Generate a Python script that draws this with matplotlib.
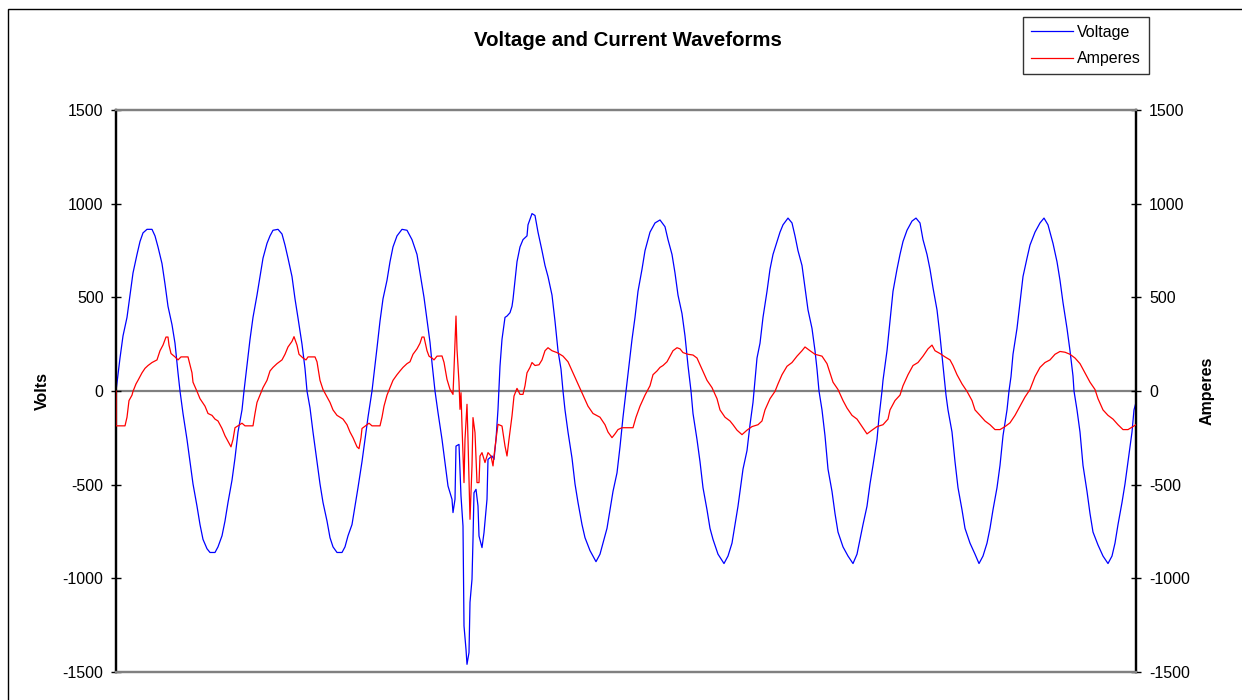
import matplotlib
matplotlib.use("Agg")
import matplotlib.pyplot as plt
from matplotlib.patches import Rectangle

plt.rcParams['font.family'] = ['Liberation Sans', 'DejaVu Sans']
plt.rcParams['axes.unicode_minus'] = False

# sample number (x axis has no labels) and readings taken from the chart
volt_t = [0, 4, 7, 11, 14, 17, 21, 24, 27, 31, 36, 39, 42, 46, 49, 52, 56, 59, 62, 64,
          67, 71, 74, 77, 81, 84, 87, 91, 94, 99, 102, 106, 109, 112, 116, 119, 122, 126, 128,
          131, 134, 137, 141, 144, 147, 151, 154, 157, 162, 166, 169, 172, 176, 179, 182, 186, 189, 191,
          194, 197, 201, 204, 207, 211, 214, 217, 221, 226, 229, 232, 236, 239, 242, 246, 249, 252, 256,
          258, 261, 264, 267, 271, 274, 277, 281, 286, 291, 296, 301, 304, 308, 311, 314, 316, 319,
          322, 326, 329, 332, 336, 337, 339, 340, 343, 345, 347, 348, 350, 351, 353, 354, 356, 357, 358, 360,
          362, 363, 366, 368, 371, 372, 376, 378, 380, 382, 384, 386, 389, 391, 394, 396, 397, 401, 404, 407,
          411, 412, 416, 419, 422, 426, 429, 432, 436, 439, 442, 445, 447,
          449, 452, 456, 459, 462, 466, 469, 474, 480, 484, 487, 491, 494, 497, 501, 504, 507, 510,
          512, 516, 519, 522, 526, 529, 534, 539, 544, 549, 552, 556, 559, 562, 566, 569, 572, 575,
          577, 581, 584, 587, 591, 594, 597, 602, 608, 612, 616, 619, 622, 624, 627, 631, 634, 637, 639,
          641, 644, 647, 651, 654, 657, 661, 664, 667, 672, 676, 679, 682, 686, 689, 692, 696, 699, 701, 703,
          706, 709, 712, 716, 719, 722, 727, 732, 737, 741, 744, 747, 751, 754, 757, 761, 763, 766,
          767, 771, 774, 777, 781, 784, 787, 791, 796, 800, 804, 807, 811, 814, 817, 821, 824, 827, 830,
          832, 836, 839, 842, 846, 849, 854, 859, 863, 867, 871, 874, 877, 881, 884, 887, 891, 893,
          895, 897, 901, 904, 907, 911, 914, 919, 924, 928, 932, 937, 941, 944, 947, 951, 954, 957, 958,
          961, 964, 967, 971, 974, 977, 982, 987, 992, 996, 999, 1002, 1006, 1009, 1012, 1016, 1018, 1020]
volts = [0, 176, 294, 393, 512, 630, 729, 798, 844, 863, 863, 828, 769, 680, 571, 452, 354, 255, 97, 0,
         -120, -259, -377, -496, -615, -713, -792, -842, -862, -862, -832, -773, -694, -595, -476, -358, -219, -101, 0,
         136, 275, 393, 512, 611, 709, 788, 828, 858, 863, 838, 779, 709, 611, 492, 390, 250, 120, 0,
         -90, -219, -377, -496, -595, -694, -783, -832, -862, -862, -832, -773, -713, -615, -516, -377, -259, -140, 0,
         90, 230, 373, 492, 591, 690, 769, 828, 863, 858, 808, 729, 630, 500, 380, 260, 150, 0,
         -115, -258, -382, -507, -578, -649, -578, -294, -285, -561, -721, -1254, -1379, -1459, -1396, -1128, -1005, -792, -543, -525,
         -614, -774, -836, -756, -578, -365, -347, -365, -258, -98, 133, 276, 393, 400, 418, 452, 489, 690, 769, 808,
         828, 887, 947, 937, 848, 749, 670, 611, 512, 373, 215, 117, 0,
         -101, -219, -358, -496, -595, -713, -783, -852, -911, -871, -812, -733, -634, -536, -437, -298, -140, 0,
         90, 275, 393, 532, 650, 749, 848, 897, 913, 877, 808, 729, 630, 512, 413, 294, 136, 0,
         -120, -259, -377, -516, -634, -733, -792, -871, -921, -881, -812, -713, -615, -536, -417, -318, -180, -61, 57,
         176, 255, 393, 532, 650, 729, 798, 848, 887, 923, 897, 828, 749, 670, 551, 433, 334, 215, 117, 0,
         -101, -239, -417, -536, -654, -753, -832, -881, -921, -871, -792, -713, -615, -496, -397, -259, -140, 0,
         57, 215, 373, 532, 650, 729, 798, 858, 907, 923, 897, 808, 729, 650, 551, 433, 294, 136, -22,
         -101, -219, -377, -516, -634, -733, -812, -871, -921, -881, -812, -733, -634, -516, -397, -239, -101, 0,
         77, 196, 334, 472, 611, 709, 779, 848, 897, 923, 887, 788, 690, 591, 472, 334, 215, 80, 0,
         -101, -219, -397, -536, -654, -753, -822, -881, -921, -881, -812, -713, -595, -496, -377, -219, -101, -61]

amp_t = [0, 0, 9, 11, 13, 16, 17, 20, 22, 26, 29, 32, 36, 41, 44, 47, 50, 52, 53, 55,
         59, 62, 65, 72, 76, 77, 81, 84, 89, 92, 96, 99, 102, 106, 109, 112, 115, 117, 119, 122,
         126, 129, 137, 139, 141, 144, 147, 151, 154, 157, 161, 166, 169, 172, 176, 178, 181, 183, 187, 190,
         192, 199, 201, 204, 207, 211, 214, 217, 221, 224, 227, 231, 234, 237, 241, 243, 245, 246, 251, 253,
         256, 264, 266, 268, 271, 274, 277, 281, 284, 287, 291, 294, 297, 301, 304, 306, 308, 311, 313, 316,
         318, 321, 326, 328, 331, 334, 337, 338, 340, 341, 343, 344, 345, 346, 348, 349, 351, 352, 354, 356,
         357, 359, 361, 363, 364, 366, 369, 372, 375, 377, 378, 380, 382, 386, 389, 391, 393, 396, 398, 401,
         404, 407, 409, 411, 414, 416, 419, 423, 426, 429, 432, 436, 441, 444, 447, 452, 457, 462, 467, 472,
         477, 484, 489, 492, 496, 499, 502, 506, 517, 520, 524, 529, 534, 537, 541, 544, 547, 551, 554, 557,
         561, 564, 567, 572, 577, 581, 586, 591, 596, 601, 604, 609, 614, 617, 621, 626, 631, 636, 642, 646,
         649, 654, 659, 662, 666, 671, 676, 681, 686, 689, 694, 699, 706, 711, 714, 717, 722, 727, 731, 736,
         741, 746, 751, 756, 761, 767, 772, 774, 779, 784, 787, 792, 797, 802, 807, 812, 816, 819, 824, 829,
         834, 837, 841, 846, 851, 856, 859, 864, 869, 874, 879, 884, 889, 894, 899, 904, 909, 914, 919, 924,
         929, 934, 939, 944, 949, 954, 959, 964, 969, 974, 979, 982, 987, 992, 997, 1002, 1007, 1012, 1017, 1020]
amps = [0, -186, -186, -140, -51, -22, -2, 38, 57, 97, 121, 136, 152, 166, 215, 245, 288, 288, 245, 200,
        182, 166, 182, 182, 97, 47, -2, -41, -81, -120, -130, -150, -160, -200, -239, -269, -298, -259, -196, -186,
        -172, -186, -186, -120, -61, -22, 18, 57, 107, 126, 146, 166, 196, 235, 265, 290, 245, 196, 176, 166,
        182, 182, 156, 57, 8, -32, -61, -101, -130, -140, -150, -180, -219, -249, -298, -308, -249, -200, -180, -172,
        -186, -186, -140, -81, -22, 18, 57, 87, 107, 126, 146, 156, 196, 225, 255, 288, 288, 215, 186, 176,
        166, 186, 187, 153, 62, 9, -18, 116, 400, 223, 46, -98, -9, -187, -489, -258, -71, -258, -685, -400,
        -142, -222, -489, -489, -347, -329, -382, -329, -347, -400, -347, -258, -178, -187, -294, -347, -258, -133, -27, 14,
        -18, -18, 28, 97, 126, 152, 136, 140, 166, 215, 231, 215, 205, 196, 186, 156, 97, 38, -22, -81,
        -120, -140, -180, -219, -249, -229, -206, -196, -196, -140, -81, -22, 28, 87, 107, 126, 136, 156, 186, 215,
        231, 225, 205, 196, 192, 176, 117, 57, 18, -41, -101, -140, -160, -180, -209, -233, -209, -190, -180, -160,
        -101, -41, -2, 38, 87, 132, 152, 186, 215, 235, 215, 196, 186, 146, 97, 47, 8, -51, -91, -130,
        -150, -190, -229, -209, -190, -180, -150, -101, -51, -22, 28, 87, 136, 152, 186, 225, 245, 215, 200, 182,
        166, 136, 87, 38, -2, -51, -101, -130, -160, -180, -206, -206, -190, -170, -130, -81, -32, 8, 77, 126,
        152, 166, 196, 211, 207, 196, 176, 146, 97, 47, 8, -41, -101, -130, -150, -180, -206, -206, -190, -180]

assert len(volt_t) == len(volts)
assert len(amp_t) == len(amps)

yticks = [-1500, -1000, -500, 0, 500, 1000, 1500]

W, H = 1242, 700
fig = plt.figure(figsize=(W / 100, H / 100), dpi=100)
ax = fig.add_axes([116 / W, 1 - 672 / H, 1020 / W, 562 / H])

ax.axhline(0, color='#808080', lw=1.6, zorder=1)
l1, = ax.plot(volt_t, volts, color='#0000FF', lw=0.9, zorder=3)
ax.set_xlim(0, 1020)
ax.set_ylim(-1500, 1500)
ax.set_xticks([])
ax.set_yticks(yticks)
ax.tick_params(axis='y', direction='inout', length=7, width=1, labelsize=11.5, pad=5.5)

ax2 = ax.twinx()
l2, = ax2.plot(amp_t, amps, color='#FF0000', lw=0.9, zorder=3)
ax2.set_ylim(-1500, 1500)
ax2.set_yticks(yticks)
ax2.tick_params(axis='y', direction='inout', length=7, width=1, labelsize=11.5, pad=6)

for a in (ax, ax2):
    a.spines['top'].set_color('#808080')
    a.spines['bottom'].set_color('#808080')
    for side in ('top', 'bottom', 'left', 'right'):
        a.spines[side].set_linewidth(1.6)

fig.text(628 / W, 1 - 40 / H, 'Voltage and Current Waveforms', ha='center', va='center',
         fontsize=14.7, fontweight='bold')
fig.text(42 / W, 1 - 391 / H, 'Volts', ha='center', va='center', rotation=90,
         fontsize=11.5, fontweight='bold')
fig.text(1207 / W, 1 - 391 / H, 'Amperes', ha='center', va='center', rotation=90,
         fontsize=11.5, fontweight='bold')

leg = fig.legend([l1, l2], ['Voltage', 'Amperes'], loc='upper left',
                 bbox_to_anchor=(1023 / W, 1 - 17 / H), fontsize=11.5, frameon=True,
                 fancybox=False, edgecolor='black', handlelength=2.6, handletextpad=0.3,
                 borderpad=0.5, labelspacing=0.7, borderaxespad=0)
leg.get_frame().set_linewidth(1)

# outer chart border (cut off on the right and bottom)
fig.patches.append(Rectangle((8 / W, -0.1), 1.0, 1.1 - 9 / H, transform=fig.transFigure,
                             fill=False, edgecolor='black', lw=1))

fig.savefig('out.png', dpi=100)
